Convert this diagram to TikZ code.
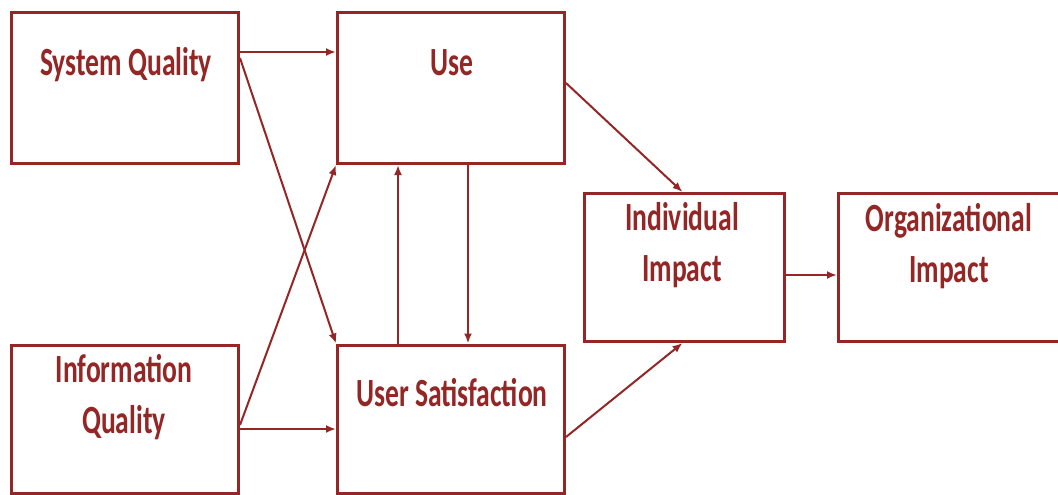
\documentclass[tikz,border=0pt]{standalone}
\usepackage{fontspec}
\setmainfont{Carlito}[FakeStretch=0.69]
\usetikzlibrary{arrows.meta,calc}
\definecolor{dred}{RGB}{148,38,38}
\tikzset{
  box/.style={draw=dred,line width=3pt,fill=white,inner sep=0pt},
  lbl/.style={text=dred,font=\fontsize{40}{51}\selectfont\bfseries,align=center,anchor=base,inner sep=0pt},
  arr/.style={draw=dred,line width=2pt,-{Latex[length=10pt,width=8pt]}}
}
\begin{document}
\begin{tikzpicture}[x=1pt,y=-1pt]
\useasboundingbox[fill=white] (0,0) rectangle (1058,495);
\node[box,minimum width=227pt,minimum height=151pt] (sq) at (125,88) {};
\node[box,minimum width=227pt,minimum height=151pt] (use) at (451,88) {};
\node[box,minimum width=227pt,minimum height=148pt] (iq) at (125,419) {};
\node[box,minimum width=227pt,minimum height=148pt] (us) at (451,419) {};
\node[box,minimum width=200pt,minimum height=148pt] (ii) at (684.5,267.5) {};
\node[box,minimum width=226pt,minimum height=148pt] (oi) at (951.5,267.5) {};
\node[lbl] (tsq) at (126,75) {System Quality};
\node[lbl] (tuse) at (452,76) {Use};
\node[lbl] (tiq) at (124,433) {Information\\Quality};
\node[lbl] (tus) at (452,406) {User Satisfaction};
\node[lbl] (tii) at (682,281) {Individual\\Impact};
\node[lbl] (toi) at (949,282) {Organizational\\Impact};
\draw[arr] ($(sq.east)+(0,-36)$) -- ($(use.west)+(0,-36)$);
\draw[arr] ($(sq.east)+(0,-30)$) -- (us.north west);
\draw[arr] ($(iq.east)+(0,6)$) -- (use.south west);
\draw[arr] ($(iq.east)+(0,10)$) -- ($(us.west)+(0,10)$);
\draw[arr] ($(us.north)+(-53,0)$) -- ($(use.south)+(-53,0)$);
\draw[arr] ($(use.south)+(17,0)$) -- ($(us.north)+(17,0)$);
\draw[arr] ($(use.east)+(0,-5)$) -- ($(ii.north)+(-2,0)$);
\draw[arr] ($(us.east)+(0,18)$) -- ($(ii.south)+(-2,0)$);
\draw[arr] ($(ii.east)+(0,7.5)$) -- ($(oi.west)+(0,7.5)$);
\end{tikzpicture}
\end{document}
